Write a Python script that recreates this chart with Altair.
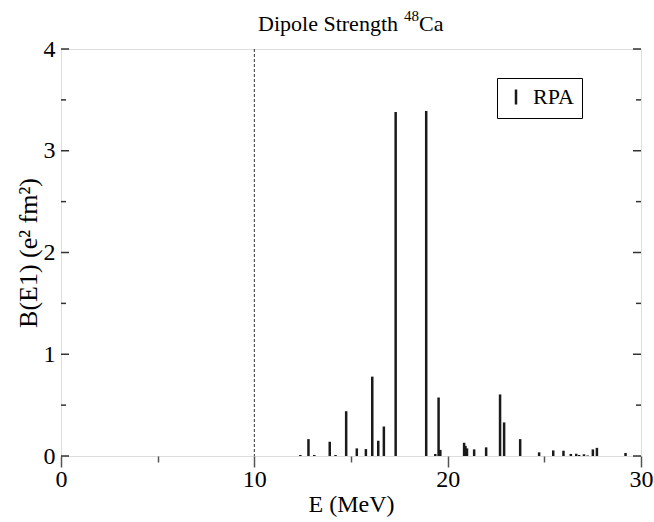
import altair as alt
import pandas as pd

# Excitation energies (MeV) and B(E1) strengths
energy = [12.38, 12.80, 13.10, 13.90, 14.20, 14.75, 15.30, 15.77, 16.10, 16.41,
          16.70, 17.31, 18.89, 19.36, 19.53, 19.62, 20.85, 20.92, 21.00, 21.37,
          21.99, 22.71, 22.92, 23.75, 24.73, 25.46, 25.99, 26.37, 26.65, 26.80,
          27.05, 27.24, 27.51, 27.72, 29.20]
strength = [0.01, 0.166, 0.01, 0.14, 0.01, 0.44, 0.075, 0.068, 0.78, 0.15,
            0.29, 3.38, 3.39, 0.02, 0.575, 0.06, 0.13, 0.10, 0.075, 0.065,
            0.085, 0.605, 0.33, 0.166, 0.036, 0.055, 0.052, 0.02, 0.022, 0.01,
            0.017, 0.005, 0.065, 0.08, 0.03]
series_name = "RPA"

x_ticks = [0, 5, 10, 15, 20, 25, 30]
y_major = [0, 1, 2, 3, 4]
y_minor = [0.5, 1.5, 2.5, 3.5]
threshold = [10]

title_main = ["Dipole Strength"]
title_sup = ["48"]
title_nucleus = ["Ca"]

W, H = 580, 407
FONT = "Liberation Serif"

df = pd.DataFrame({"E": energy, "B": strength, "series": [series_name] * len(energy)})
ymaj = pd.DataFrame({"v": y_major})
ymin = pd.DataFrame({"v": y_minor})
thr = pd.DataFrame({"x": threshold})

xscale = alt.Scale(domain=[0, 30], nice=False, zero=False)
yscale = alt.Scale(domain=[0, 4], nice=False)

bars = alt.Chart(df).mark_rule(strokeWidth=2.5).encode(
    x=alt.X("E:Q", scale=xscale, title="E (MeV)",
            axis=alt.Axis(values=x_ticks, domain=False, grid=False,
                          tickSize={"condition": {"test": "datum.value % 10 === 0", "value": 11}, "value": 6},
                          tickColor="#555", tickWidth=1.5,
                          labelExpr="datum.value % 10 === 0 ? datum.label : ''",
                          labelFontSize=24, labelFont=FONT, labelColor="black",
                          labelPadding=0, labelFlush=False,
                          titleFontSize=24, titleFont=FONT, titleFontWeight="normal",
                          titleColor="black", titlePadding=1)),
    y=alt.Y("B:Q", scale=yscale, title="B(E1) (e² fm²)",
            axis=alt.Axis(values=y_major, format="d", domain=False, grid=False, ticks=False, tickSize=0,
                          labelFontSize=24, labelFont=FONT, labelColor="black",
                          labelPadding=6, labelFlush=False,
                          titleFontSize=26, titleFont=FONT, titleFontWeight="normal",
                          titleColor="black", titleAngle=270, titleBaseline="alphabetic",
                          titleX=-25, titleY=H / 2)),
    y2=alt.datum(0),
    color=alt.Color("series:N", scale=alt.Scale(range=["#1a1a1a"]),
                    legend=alt.Legend(title=None, orient="none", legendX=436, legendY=29,
                                      symbolType="M0,-1L0,1", symbolSize=225,
                                      symbolStrokeWidth=2.5, symbolStrokeColor="#1a1a1a",
                                      labelFontSize=22, labelFont=FONT, labelColor="black",
                                      labelOffset=6, padding=8,
                                      strokeColor="black", fillColor="white")),
)

dash = alt.Chart(thr).mark_rule(strokeWidth=1, strokeDash=[3, 2], color="#333").encode(
    x=alt.X("x:Q", scale=xscale)
)

left_major = alt.Chart(ymaj).mark_rule(strokeWidth=1.5, color="#333").encode(
    y=alt.Y("v:Q", scale=yscale), x=alt.value(0), x2=alt.value(8))
left_minor = alt.Chart(ymin).mark_rule(strokeWidth=1.5, color="#333").encode(
    y=alt.Y("v:Q", scale=yscale), x=alt.value(0), x2=alt.value(5))
right_major = alt.Chart(ymaj).mark_rule(strokeWidth=1.5, color="#333").encode(
    y=alt.Y("v:Q", scale=yscale), x=alt.value(W - 8), x2=alt.value(W))
right_minor = alt.Chart(ymin).mark_rule(strokeWidth=1.5, color="#333").encode(
    y=alt.Y("v:Q", scale=yscale), x=alt.value(W - 5), x2=alt.value(W))

t1 = alt.Chart(pd.DataFrame({"t": title_main})).mark_text(
    font=FONT, fontSize=22, align="right", baseline="alphabetic", color="black").encode(
    text="t:N", x=alt.value(337), y=alt.value(-18))
t2 = alt.Chart(pd.DataFrame({"t": title_sup})).mark_text(
    font=FONT, fontSize=15, align="left", baseline="alphabetic", color="black").encode(
    text="t:N", x=alt.value(343), y=alt.value(-28))
t3 = alt.Chart(pd.DataFrame({"t": title_nucleus})).mark_text(
    font=FONT, fontSize=22, align="left", baseline="alphabetic", color="black").encode(
    text="t:N", x=alt.value(358), y=alt.value(-18))

chart = alt.layer(dash, bars, left_major, left_minor, right_major, right_minor, t1, t2, t3).properties(
    width=W, height=H,
    autosize=alt.AutoSizeParams(type="none"),
    padding={"left": 61, "top": 49, "right": 13, "bottom": 66},
).configure_view(
    stroke="black", strokeWidth=2
).configure(background="white")

chart.save("out.html", embed_options={"renderer": "svg", "actions": False})
